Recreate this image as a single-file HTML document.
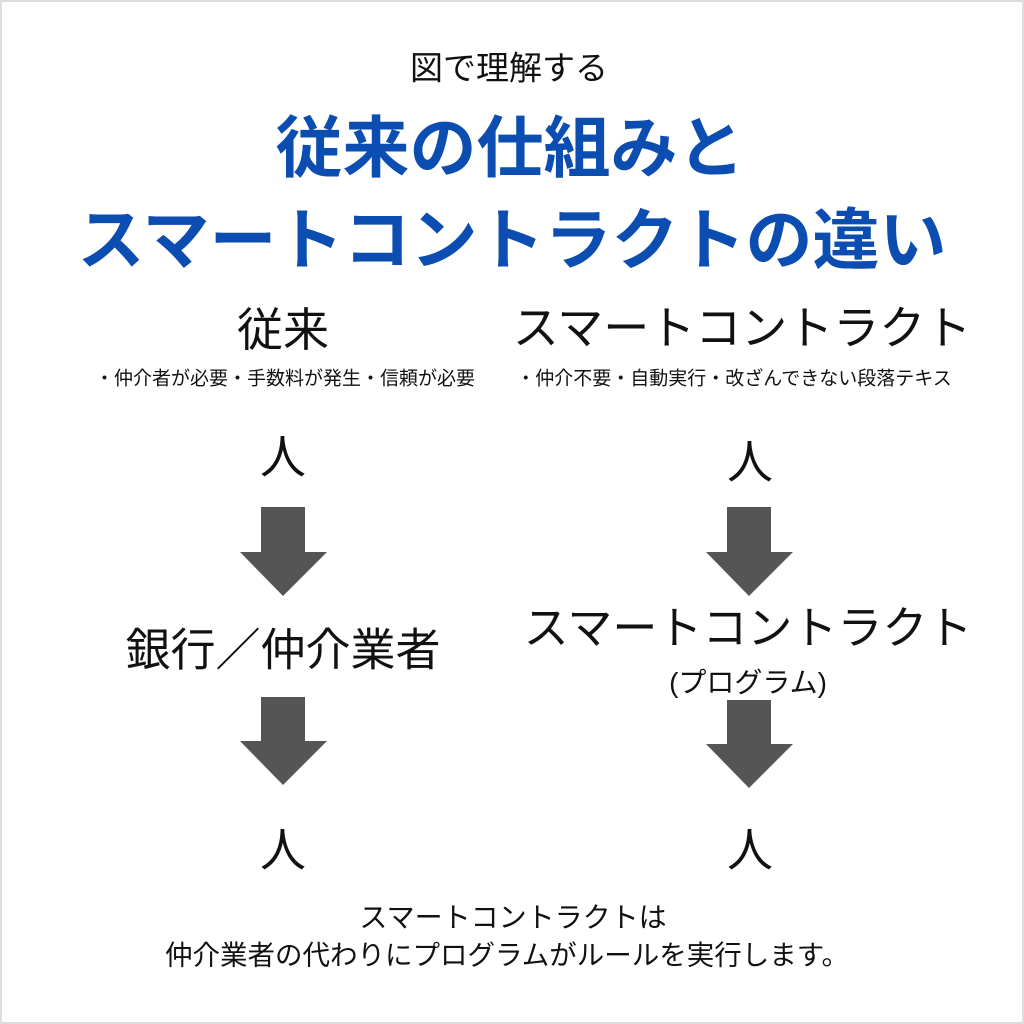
<!DOCTYPE html>
<html><head><meta charset="utf-8"><style>
html,body{margin:0;padding:0;background:#fff}
#c{position:relative;width:1020px;height:1020px;border:2px solid #dedede;overflow:hidden;font-family:"Liberation Sans","Noto Sans CJK JP",sans-serif;color:#111}
.t{position:absolute;white-space:nowrap;transform:translate(-50%,-50%);line-height:1}
.b{color:#0b4db0;font-weight:bold;font-size:67px}
</style></head><body><div id="c">
<div class="t" style="left:507px;top:66px;font-size:33px">図で理解する</div>
<div class="t b" style="left:508px;top:147px">従来の仕組みと</div>
<div class="t b" style="left:510px;top:239px">スマートコントラクトの違い</div>
<div class="t" style="left:281px;top:328px;font-size:46px">従来</div>
<div class="t" style="left:740px;top:326px;font-size:46px">スマートコントラクト</div>
<div class="t" style="left:283px;top:377px;font-size:19px">・仲介者が必要・手数料が発生・信頼が必要</div>
<div class="t" style="left:732px;top:377px;font-size:19px">・仲介不要・自動実行・改ざんできない段落テキス</div>
<div class="t" style="left:281px;top:455px;font-size:46px">人</div>
<div class="t" style="left:748px;top:460px;font-size:46px">人</div>
<div class="t" style="left:281px;top:648px;font-size:45px">銀行／仲介業者</div>
<div class="t" style="left:746px;top:626px;font-size:45px">スマートコントラクト</div>
<div class="t" style="left:746px;top:681px;font-size:28px">(プログラム)</div>
<div class="t" style="left:281px;top:848px;font-size:46px">人</div>
<div class="t" style="left:748px;top:848px;font-size:46px">人</div>
<div class="t" style="left:511px;top:916px;font-size:28px">スマートコントラクトは</div>
<div class="t" style="left:505px;top:953px;font-size:27.5px">仲介業者の代わりにプログラムがルールを実行します。</div>
<svg style="position:absolute;left:-2px;top:-2px" width="1024" height="1024">
<g fill="#555">
<polygon points="261,507 305,507 305,552 327,552 283,596 240,552 261,552"/>
<polygon points="727,507 771,507 771,552 793,552 749,596 706,552 727,552"/>
<polygon points="261,697 305,697 305,741 327,741 283,785 240,741 261,741"/>
<polygon points="727,700 771,700 771,744 793,744 749,788 706,744 727,744"/>
</g></svg>
</div></body></html>
